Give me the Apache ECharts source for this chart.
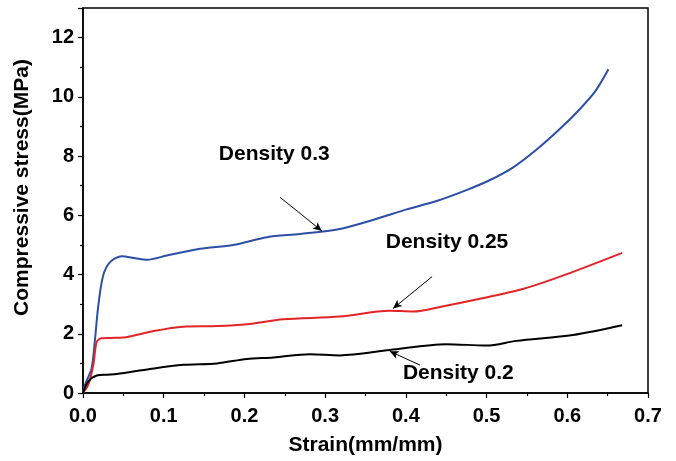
<!DOCTYPE html>
<html>
<head>
<meta charset="utf-8">
<script src="https://cdn.jsdelivr.net/npm/echarts@6/dist/echarts.min.js"></script>
<style>
  html, body { margin: 0; padding: 0; background: #fff; }
  #main { width: 676px; height: 461px; }
</style>
</head>
<body>
<div id="main"></div>
<script>
// Density 0.3 (blue)
var strain03 = [0, 0.0025, 0.0107, 0.015, 0.019, 0.025, 0.0335, 0.048, 0.065, 0.079, 0.104, 0.145, 0.186, 0.228, 0.269, 0.318, 0.360, 0.401, 0.440, 0.475, 0.505, 0.533, 0.562, 0.591, 0.616, 0.635, 0.651]
var stress03 = [0, 0.28, 0.84, 1.85, 2.96, 3.97, 4.42, 4.62, 4.55, 4.5, 4.64, 4.87, 5.0, 5.26, 5.37, 5.54, 5.85, 6.2, 6.5, 6.85, 7.2, 7.62, 8.22, 8.92, 9.6, 10.2, 10.93]
// Density 0.25 (red)
var strain025 = [0, 0.0066, 0.0128, 0.017, 0.023, 0.035, 0.050, 0.083, 0.124, 0.166, 0.203, 0.248, 0.318, 0.380, 0.409, 0.445, 0.483, 0.546, 0.607, 0.668]
var stress025 = [0, 0.28, 0.95, 1.73, 1.85, 1.86, 1.87, 2.07, 2.24, 2.26, 2.32, 2.49, 2.58, 2.78, 2.75, 2.92, 3.13, 3.52, 4.09, 4.73]
// Density 0.2 (black)
var strain02 = [0, 0.0066, 0.017, 0.030, 0.042, 0.083, 0.124, 0.166, 0.203, 0.236, 0.281, 0.318, 0.380, 0.450, 0.500, 0.537, 0.607, 0.668]
var stress02 = [0, 0.39, 0.59, 0.62, 0.64, 0.81, 0.95, 1.0, 1.15, 1.2, 1.31, 1.27, 1.45, 1.65, 1.6, 1.76, 1.96, 2.29]

var xTicks = [0, 0.1, 0.2, 0.3, 0.4, 0.5, 0.6, 0.7]
var yTicks = [0, 2, 4, 6, 8, 10, 12]

// annotation labels and arrows (data coordinates)
var labelText = ['Density 0.3', 'Density 0.25', 'Density 0.2']
var labelPos = [[0.237, 8.05], [0.451, 5.1], [0.465, 0.67]]
var arrowFrom = [[0.244, 6.61], [0.4325, 3.93], [0.4176, 0.94]]
var arrowTo = [[0.296, 5.47], [0.384, 2.85], [0.380, 1.41]]

function zip (xs, ys) {
  return xs.map(function (x, i) { return [x, ys[i]] })
}

var fontFam = '"Liberation Sans", Arial, sans-serif'
var chart = echarts.init(document.getElementById('main'))

function lineSeries (name, xs, ys, color, idx) {
  return {
    name: name,
    type: 'line',
    data: zip(xs, ys),
    smooth: 0.3,
    symbol: 'none',
    lineStyle: { color: color, width: 2 },
    markLine: {
      silent: true,
      symbol: ['none', 'arrow'],
      symbolSize: [6, 9],
      lineStyle: { color: '#000', width: 1, type: 'solid' },
      label: { show: false },
      data: [[{ coord: arrowFrom[idx] }, { coord: arrowTo[idx] }]]
    },
    markPoint: {
      silent: true,
      symbol: 'circle',
      symbolSize: 0,
      label: {
        show: true,
        formatter: labelText[idx],
        color: '#000',
        fontWeight: 'bold',
        fontSize: 21,
        fontFamily: fontFam
      },
      data: [{ coord: labelPos[idx] }]
    }
  }
}

chart.setOption({
  animation: false,
  grid: {
    left: 83,
    right: 28,
    top: 8,
    bottom: 66,
    show: true,
    borderColor: '#000',
    borderWidth: 1.5
  },
  xAxis: {
    type: 'value',
    min: 0,
    max: 0.7,
    interval: 0.1,
    name: 'Strain(mm/mm)',
    nameLocation: 'middle',
    nameGap: 42,
    nameTextStyle: { color: '#000', fontWeight: 'bold', fontSize: 21, fontFamily: fontFam },
    axisLine: { lineStyle: { color: '#000', width: 1.5 } },
    axisTick: { show: true, length: 5, lineStyle: { color: '#000', width: 1.2 } },
    minorTick: { show: true, splitNumber: 2, length: 3, lineStyle: { color: '#000', width: 1.2 } },
    splitLine: { show: false },
    axisLabel: {
      color: '#000',
      fontWeight: 'bold',
      fontSize: 20,
      fontFamily: fontFam,
      margin: 13,
      formatter: function (v) {
        var t = xTicks.find(function (k) { return Math.abs(k - v) < 1e-9 })
        return t === undefined ? '' : t.toFixed(1)
      }
    }
  },
  yAxis: {
    type: 'value',
    min: 0,
    max: 13,
    interval: 2,
    name: 'Compressive stress(MPa)',
    nameLocation: 'middle',
    nameGap: 50,
    nameTextStyle: { color: '#000', fontWeight: 'bold', fontSize: 21, fontFamily: fontFam, padding: [0, 0, 0, 26] },
    axisLine: { lineStyle: { color: '#000', width: 1.5 } },
    axisTick: { show: true, length: 5, lineStyle: { color: '#000', width: 1.2 } },
    minorTick: { show: true, splitNumber: 2, length: 3, lineStyle: { color: '#000', width: 1.2 } },
    splitLine: { show: false },
    axisLabel: {
      color: '#000',
      fontWeight: 'bold',
      fontSize: 20,
      fontFamily: fontFam,
      margin: 9,
      formatter: function (v) {
        return yTicks.indexOf(v) >= 0 ? String(v) : ''
      }
    }
  },
  series: [
    lineSeries('Density 0.3', strain03, stress03, '#2b4fa6', 0),
    lineSeries('Density 0.25', strain025, stress025, '#e32427', 1),
    lineSeries('Density 0.2', strain02, stress02, '#000000', 2)
  ]
})
</script>
</body>
</html>
